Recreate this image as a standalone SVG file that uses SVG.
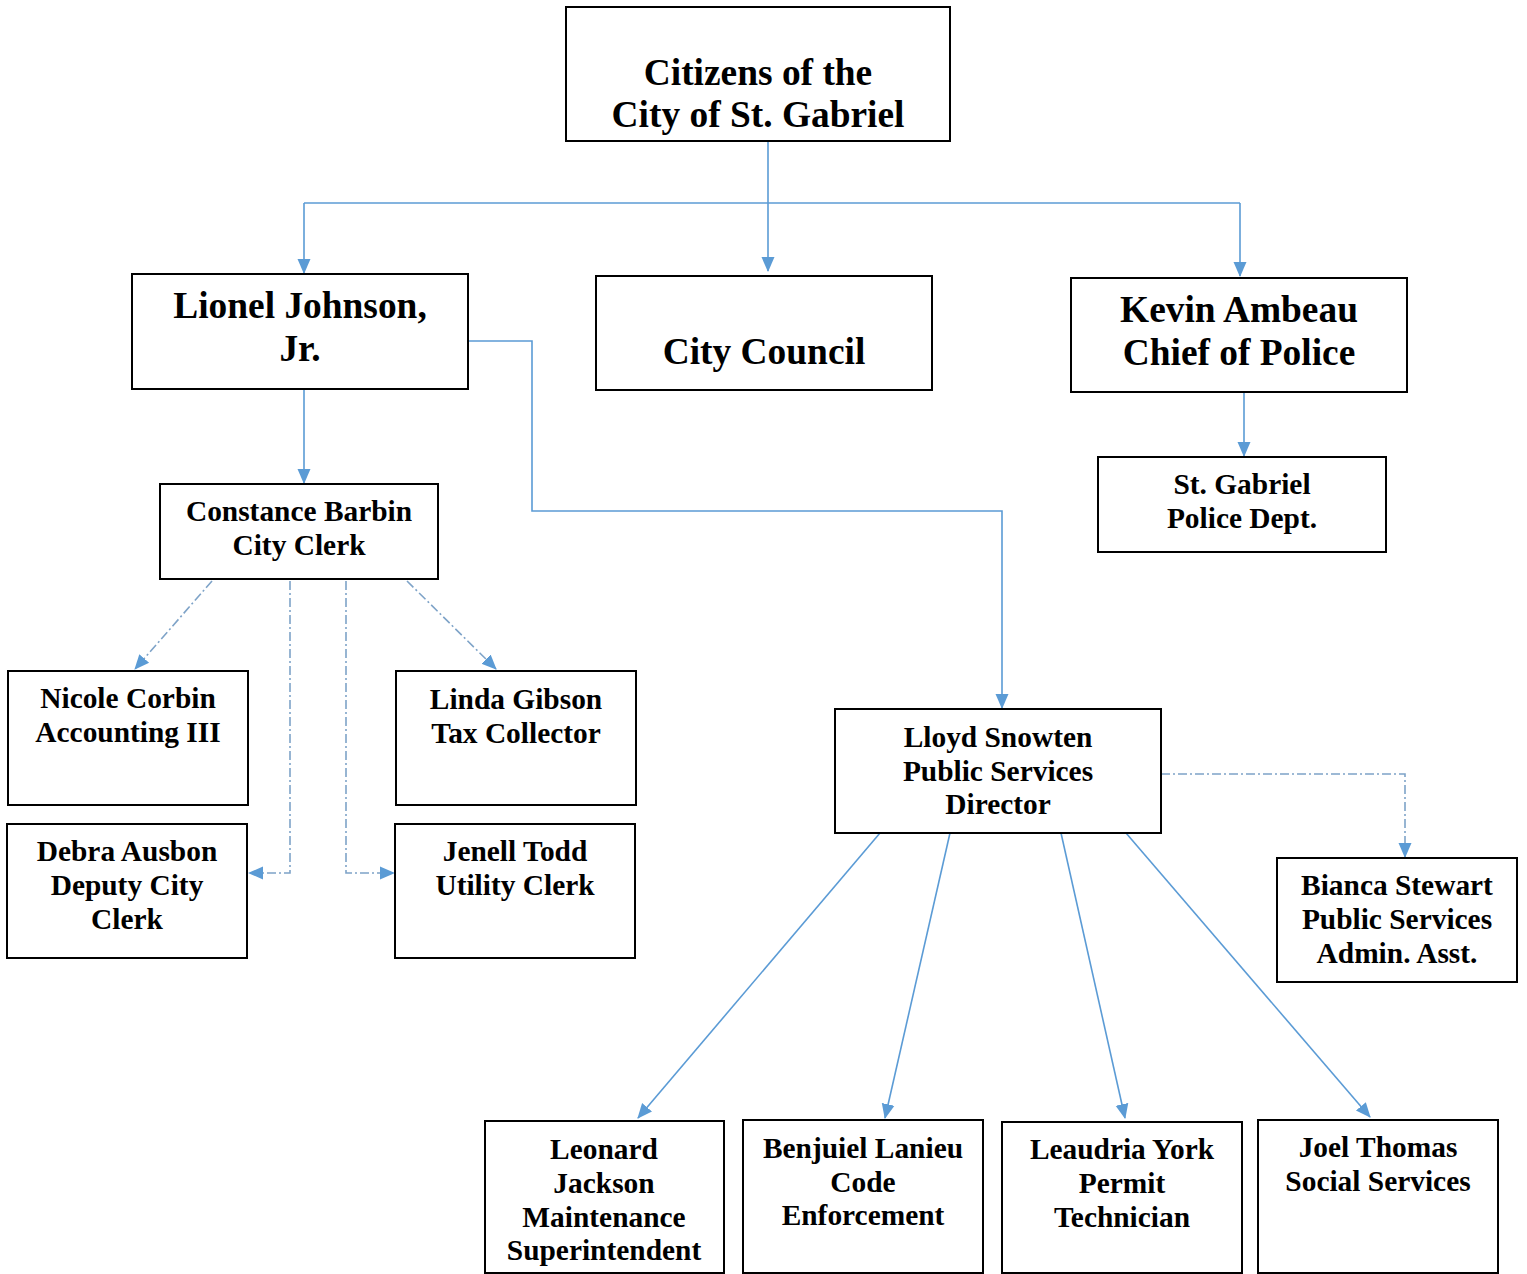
<svg xmlns="http://www.w3.org/2000/svg" width="1527" height="1274" viewBox="0 0 1527 1274">
<style>
.box{fill:#fff;stroke:#000;stroke-width:2}
.big{font-family:"Liberation Serif","Times New Roman",serif;font-weight:bold;font-size:37.4px;text-anchor:middle;fill:#000}
.sm{font-family:"Liberation Serif","Times New Roman",serif;font-weight:bold;font-size:29.4px;text-anchor:middle;fill:#000}
.ln{fill:none;stroke:#5b9bd5;stroke-width:1.6}
.dd{fill:none;stroke:#7ea3c8;stroke-width:1.6;stroke-dasharray:9,3,2,3}
</style>
<defs>
<marker id="ah" markerUnits="userSpaceOnUse" markerWidth="15" markerHeight="15" viewBox="0 0 15 15" refX="14" refY="7.5" orient="auto">
<path d="M0,1 L15,7.5 L0,14 Z" fill="#5b9bd5"/>
</marker>
</defs>
<rect width="1527" height="1274" fill="#fff"/>
<g id="connectors">
<path class="ln" d="M768,141 V271" marker-end="url(#ah)"/>
<path class="ln" d="M304,203 H1240"/>
<path class="ln" d="M304,203 V273" marker-end="url(#ah)"/>
<path class="ln" d="M1240,203 V276" marker-end="url(#ah)"/>
<path class="ln" d="M304,389 V483" marker-end="url(#ah)"/>
<path class="ln" d="M468,341 H532 V511 H1002 V708" marker-end="url(#ah)"/>
<path class="ln" d="M1244,392 V456" marker-end="url(#ah)"/>
<path class="dd" d="M212,581 L135,669" marker-end="url(#ah)"/>
<path class="dd" d="M290,581 V873 H249" marker-end="url(#ah)"/>
<path class="dd" d="M346,581 V873 H394" marker-end="url(#ah)"/>
<path class="dd" d="M407,581 L496,669" marker-end="url(#ah)"/>
<path class="dd" d="M1161,774 H1405 V857" marker-end="url(#ah)"/>
<path class="ln" d="M880,833 L638,1118" marker-end="url(#ah)"/>
<path class="ln" d="M950,833 L885,1118" marker-end="url(#ah)"/>
<path class="ln" d="M1061,833 L1125,1118" marker-end="url(#ah)"/>
<path class="ln" d="M1126,833 L1370,1117" marker-end="url(#ah)"/>
</g>
<g id="citizens"><rect class="box" x="566" y="7" width="384" height="134"/>
<text class="big" x="758" y="85">Citizens of the</text><text class="big" x="758" y="127">City of St. Gabriel</text></g>
<g id="lionel"><rect class="box" x="132" y="274" width="336" height="115"/>
<text class="big" x="300" y="318">Lionel Johnson,</text><text class="big" x="300" y="361">Jr.</text></g>
<g id="council"><rect class="box" x="596" y="276" width="336" height="114"/>
<text class="big" x="764" y="364">City Council</text></g>
<g id="kevin"><rect class="box" x="1071" y="278" width="336" height="114"/>
<text class="big" x="1239" y="322">Kevin Ambeau</text><text class="big" x="1239" y="365">Chief of Police</text></g>
<g id="constance"><rect class="box" x="160" y="484" width="278" height="95"/>
<text class="sm" x="299" y="521">Constance Barbin</text><text class="sm" x="299" y="555">City Clerk</text></g>
<g id="police"><rect class="box" x="1098" y="457" width="288" height="95"/>
<text class="sm" x="1242" y="494">St. Gabriel</text><text class="sm" x="1242" y="528">Police Dept.</text></g>
<g id="nicole"><rect class="box" x="8" y="671" width="240" height="134"/>
<text class="sm" x="128" y="708">Nicole Corbin</text><text class="sm" x="128" y="742">Accounting III</text></g>
<g id="linda"><rect class="box" x="396" y="671" width="240" height="134"/>
<text class="sm" x="516" y="709">Linda Gibson</text><text class="sm" x="516" y="743">Tax Collector</text></g>
<g id="debra"><rect class="box" x="7" y="824" width="240" height="134"/>
<text class="sm" x="127" y="861">Debra Ausbon</text><text class="sm" x="127" y="895">Deputy City</text><text class="sm" x="127" y="929">Clerk</text></g>
<g id="jenell"><rect class="box" x="395" y="824" width="240" height="134"/>
<text class="sm" x="515" y="861">Jenell Todd</text><text class="sm" x="515" y="895">Utility Clerk</text></g>
<g id="lloyd"><rect class="box" x="835" y="709" width="326" height="124"/>
<text class="sm" x="998" y="747">Lloyd Snowten</text><text class="sm" x="998" y="781">Public Services</text><text class="sm" x="998" y="814">Director</text></g>
<g id="bianca"><rect class="box" x="1277" y="858" width="240" height="124"/>
<text class="sm" x="1397" y="895">Bianca Stewart</text><text class="sm" x="1397" y="929">Public Services</text><text class="sm" x="1397" y="963">Admin. Asst.</text></g>
<g id="leonard"><rect class="box" x="485" y="1121" width="239" height="152"/>
<text class="sm" x="604" y="1159">Leonard</text><text class="sm" x="604" y="1193">Jackson</text><text class="sm" x="604" y="1227">Maintenance</text><text class="sm" x="604" y="1260">Superintendent</text></g>
<g id="benjuiel"><rect class="box" x="743" y="1120" width="240" height="153"/>
<text class="sm" x="863" y="1158">Benjuiel Lanieu</text><text class="sm" x="863" y="1192">Code</text><text class="sm" x="863" y="1225">Enforcement</text></g>
<g id="leaudria"><rect class="box" x="1002" y="1122" width="240" height="151"/>
<text class="sm" x="1122" y="1159">Leaudria York</text><text class="sm" x="1122" y="1193">Permit</text><text class="sm" x="1122" y="1227">Technician</text></g>
<g id="joel"><rect class="box" x="1258" y="1120" width="240" height="153"/>
<text class="sm" x="1378" y="1157">Joel Thomas</text><text class="sm" x="1378" y="1191">Social Services</text></g>
</svg>
